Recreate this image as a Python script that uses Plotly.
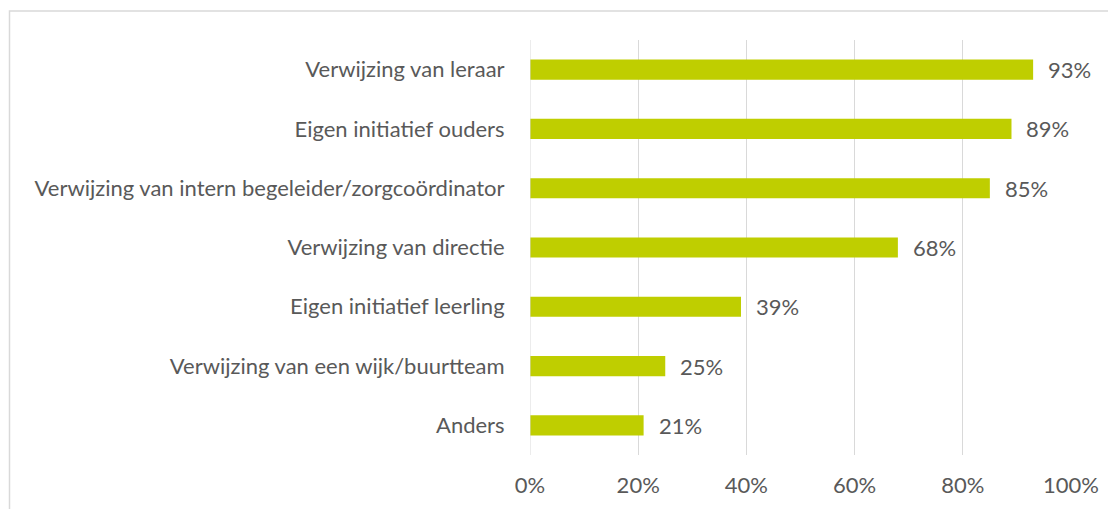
import plotly.graph_objects as go

categories = [
    "Verwijzing van leraar",
    "Eigen initiatief ouders",
    "Verwijzing van intern begeleider/zorgcoördinator",
    "Verwijzing van directie",
    "Eigen initiatief leerling",
    "Verwijzing van een wijk/buurtteam",
    "Anders",
]
values = [0.93, 0.89, 0.85, 0.68, 0.39, 0.25, 0.21]
tick_vals = [0, 0.2, 0.4, 0.6, 0.8, 1.0]
tick_text = ["0%", "20%", "40%", "60%", "80%", "100%"]

font_family = "Lato, 'Open Sans', sans-serif"
text_color = "#595959"
bar_color = "#BFCE00"
fs = 22

L, R, T, B = 522, 53, 32, 62
W, H = 1116, 509
pw = W - L - R
ph = H - T - B

fig = go.Figure()
fig.add_trace(go.Bar(
    x=values,
    y=categories,
    orientation="h",
    marker=dict(color=bar_color, line=dict(width=0)),
    width=0.34,
    textposition="none",
    hoverinfo="skip",
))

for c, v in zip(categories, values):
    fig.add_annotation(
        x=v, y=c, xref="x", yref="y",
        text=f"{round(v*100)}%",
        showarrow=False, xanchor="left", xshift=13,
        font=dict(family=font_family, size=fs, color=text_color),
    )

fig.update_layout(
    width=W, height=H,
    margin=dict(l=L, r=R, t=T, b=B),
    paper_bgcolor="white", plot_bgcolor="white",
    showlegend=False,
    font=dict(family=font_family, size=fs, color=text_color),
    xaxis=dict(
        range=[0, 1], tickvals=tick_vals, ticktext=tick_text,
        showgrid=True, gridcolor="#D9D9D9", gridwidth=1,
        zeroline=False, showline=False,
        ticks="outside", ticklen=11, tickcolor="rgba(0,0,0,0)",
        tickfont=dict(size=fs, color=text_color),
        fixedrange=True,
    ),
    yaxis=dict(
        categoryorder="array", categoryarray=categories[::-1],
        showgrid=False, zeroline=False, showline=False,
        ticks="outside", ticklen=20, tickcolor="rgba(0,0,0,0)",
        tickfont=dict(size=fs, color=text_color),
        fixedrange=True,
    ),
    shapes=[
        dict(type="line", xref="x", yref="paper", x0=0, x1=0, y0=0, y1=1,
             line=dict(color="#D9D9D9", width=1)),
        dict(type="rect", xref="paper", yref="paper",
             x0=(1.5 - L) / pw, x1=(W + 20 - L) / pw,
             y0=-(B + 20) / ph, y1=1 + (T - 3) / ph,
             line=dict(color="#D9D9D9", width=1.5), fillcolor="rgba(0,0,0,0)",
             layer="below"),
    ],
)

fig.write_html("out.html")
